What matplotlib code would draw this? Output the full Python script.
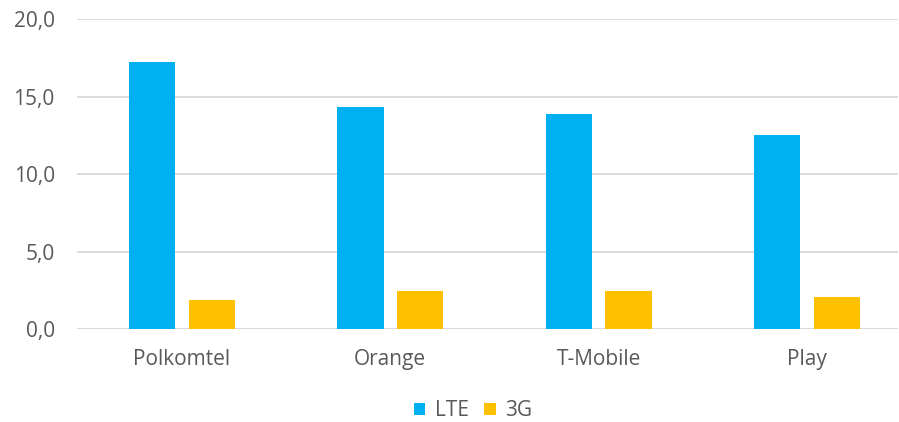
import matplotlib
matplotlib.use("Agg")
import matplotlib.pyplot as plt
import numpy as np

categories = ["Polkomtel", "Orange", "T-Mobile", "Play"]
series_names = ["LTE", "3G"]
lte = [17.2, 14.3, 13.9, 12.5]
g3 = [1.9, 2.5, 2.5, 2.1]
yticks = [0, 5, 10, 15, 20]
ytick_labels = ["0,0", "5,0", "10,0", "15,0", "20,0"]

colors = ["#00B0F0", "#FFC000"]
text_color = "#595959"
plt.rcParams['font.family'] = ['Open Sans', 'DejaVu Sans']

W, H = 899, 422
fig = plt.figure(figsize=(W / 100, H / 100), dpi=100)
left_px, right_px = 77, 898
bottom_px, top_px = 422 - 329.3, 422 - 19
ax = fig.add_axes([left_px / W, bottom_px / H, (right_px - left_px) / W, (top_px - bottom_px) / H])

x = np.arange(len(categories))
bw = 0.222
off = 0.143
ax.bar(x - off, lte, bw, color=colors[0], label=series_names[0], zorder=3)
ax.bar(x + off, g3, bw, color=colors[1], label=series_names[1], zorder=3)

cat_px = 208.3
x0 = -(182 - left_px) / cat_px
ax.set_xlim(x0, x0 + (right_px - left_px) / cat_px)
ax.set_ylim(0, 20)
ax.set_yticks(yticks)
ax.set_yticklabels(ytick_labels)
ax.set_xticks(x)
ax.set_xticklabels(categories)
ax.yaxis.grid(True, color="#D9D9D9", linewidth=1.3, zorder=0)
ax.set_axisbelow(True)
for s in ax.spines.values():
    s.set_visible(False)
ax.axhline(0, color="#D9D9D9", linewidth=1.3, zorder=1)
ax.tick_params(axis="both", length=0, labelsize=15, colors=text_color)
ax.tick_params(axis="x", pad=14)
ax.tick_params(axis="y", pad=16)

leg = fig.legend(loc="center", bbox_to_anchor=(473 / W, 1 - 411 / H), ncol=2, frameon=False,
                 fontsize=15, handlelength=0.55, handleheight=0.55, handletextpad=0.45,
                 columnspacing=0.75, labelcolor=text_color)

fig.savefig("out.png", dpi=100)
